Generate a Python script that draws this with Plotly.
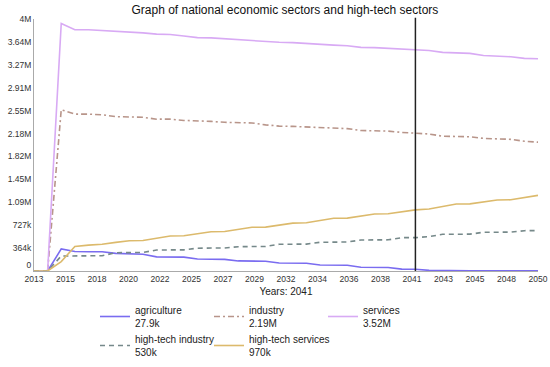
import plotly.graph_objects as go

years = list(range(2013, 2051))

agriculture = [0, 0, 350e3, 310e3, 305e3, 305e3, 280e3, 270e3, 265e3, 225e3, 222e3, 220e3,
               190e3, 188e3, 185e3, 160e3, 158e3, 155e3, 128e3, 126e3, 124e3, 95e3, 93e3, 92e3,
               60e3, 58e3, 56e3, 30e3, 27.9e3, 10e3, 5e3, 5e3, 5e3, 5e3, 5e3, 5e3, 5e3, 5e3]
industry = [0, 0, 2.56e6, 2.49e6, 2.49e6, 2.48e6, 2.45e6, 2.45e6, 2.44e6, 2.41e6, 2.41e6, 2.39e6,
            2.385e6, 2.375e6, 2.36e6, 2.355e6, 2.35e6, 2.32e6, 2.30e6, 2.295e6, 2.285e6, 2.27e6,
            2.265e6, 2.26e6, 2.23e6, 2.225e6, 2.22e6, 2.20e6, 2.19e6, 2.175e6, 2.14e6, 2.135e6,
            2.13e6, 2.105e6, 2.10e6, 2.09e6, 2.06e6, 2.045e6]
services = [0, 0, 3.93e6, 3.83e6, 3.83e6, 3.82e6, 3.80e6, 3.795e6, 3.78e6, 3.76e6, 3.755e6, 3.73e6,
            3.705e6, 3.70e6, 3.685e6, 3.67e6, 3.665e6, 3.65e6, 3.63e6, 3.625e6, 3.61e6, 3.59e6,
            3.585e6, 3.575e6, 3.55e6, 3.545e6, 3.535e6, 3.52e6, 3.52e6, 3.50e6, 3.47e6, 3.465e6,
            3.455e6, 3.42e6, 3.41e6, 3.40e6, 3.375e6, 3.37e6]
ht_industry = [0, 0, 238e3, 240e3, 240e3, 242e3, 290e3, 292e3, 294e3, 333e3, 335e3, 336e3,
               362e3, 364e3, 366e3, 386e3, 388e3, 390e3, 424e3, 425e3, 427e3, 456e3, 458e3, 460e3,
               492e3, 493e3, 495e3, 529e3, 530e3, 545e3, 583e3, 584e3, 585e3, 615e3, 616e3, 617e3,
               640e3, 641e3]
ht_services = [0, 0, 150e3, 390e3, 410e3, 425e3, 455e3, 481e3, 485e3, 520e3, 556e3, 560e3,
               590e3, 624e3, 628e3, 660e3, 694e3, 697e3, 727e3, 760e3, 767e3, 800e3, 837e3, 840e3,
               870e3, 905e3, 908e3, 940e3, 970e3, 985e3, 1025e3, 1064e3, 1066e3, 1095e3, 1127e3,
               1130e3, 1165e3, 1200e3]

legend_values = {"agriculture": "27.9k", "industry": "2.19M", "services": "3.52M",
                 "high-tech industry": "530k", "high-tech services": "970k"}
selected_year = 2041

y_tick_vals = [i * 4e6 / 11 for i in range(12)]
y_tick_text = ["0<br>\u00a0", "364k", "727k", "1.09M", "1.45M", "1.82M", "2.18M", "2.55M",
               "2.91M", "3.27M", "3.64M", "4M"]
x_tick_vals = [2013 + i * 37 / 16 for i in range(17)]
x_tick_text = ["2013", "2015", "2018", "2020", "2022", "2025", "2027", "2029", "2032",
               "2034", "2036", "2038", "2041", "2043", "2045", "2048", "2050"]

FONT = "Liberation Sans, Arial, sans-serif"

series = [
    ("agriculture", agriculture, "#7a6cf0", "solid", "legend"),
    ("industry", industry, "#b8958a", "6px,3px,2px,3px", "legend"),
    ("services", services, "#d8aaf4", "solid", "legend"),
    ("high-tech industry", ht_industry, "#76898a", "5px,4px", "legend2"),
    ("high-tech services", ht_services, "#dcba6c", "solid", "legend2"),
]

fig = go.Figure()
for name, vals, color, dash, lg in series:
    fig.add_trace(go.Scatter(
        x=years, y=vals, mode="lines",
        name=f"{name}<br>{legend_values[name]}",
        line=dict(color=color, width=1.6, dash=dash),
        legend=lg,
        legendwidth=69 if name != "high-tech services" else 130,
    ))

fig.add_shape(type="line", xref="x", yref="paper", x0=selected_year, x1=selected_year,
              y0=0, y1=1.005, line=dict(color="#222222", width=1.5))

legend_common = dict(
    orientation="h", xref="container", yref="container",
    xanchor="left", yanchor="top",
    entrywidthmode="pixels",
    font=dict(family=FONT, size=10, color="#222222"),
    bgcolor="rgba(0,0,0,0)", tracegroupgap=0, valign="middle",
    itemwidth=30,
)

fig.update_layout(
    width=550, height=367,
    margin=dict(l=34, r=12, t=19, b=96),
    paper_bgcolor="white", plot_bgcolor="white",
    font=dict(family=FONT, color="#222222"),
    title=dict(text="Graph of national economic sectors and high-tech sectors",
               x=0.518, xanchor="center", y=1 - 10 / 367, yanchor="middle",
               font=dict(family=FONT, size=12, color="#111111")),
    showlegend=True,
    legend=dict(x=95 / 550, y=1 - 297 / 367, **legend_common),
    legend2=dict(x=95 / 550, y=1 - 326 / 367, **legend_common),
    xaxis=dict(range=[2013, 2050], tickmode="array", tickvals=x_tick_vals,
               ticktext=x_tick_text, showgrid=False, zeroline=False, automargin=False,
               showline=True, linecolor="#aaaaaa", linewidth=1, ticks="",
               ticklabelstandoff=0,
               tickfont=dict(family=FONT, size=8.5, color="#333333"),
               title=dict(text=f"Years: {selected_year}", standoff=15,
                          font=dict(family=FONT, size=10, color="#222222"))),
    yaxis=dict(range=[0, 4e6], tickmode="array", tickvals=y_tick_vals,
               ticktext=y_tick_text, showgrid=False, zeroline=False, automargin=False,
               showline=True, linecolor="#aaaaaa", linewidth=1, ticks="",
               tickfont=dict(family=FONT, size=8.5, color="#333333")),
)

fig.write_html("out.html", config={"displayModeBar": False},
               post_script="document.body.style.margin='0';")
